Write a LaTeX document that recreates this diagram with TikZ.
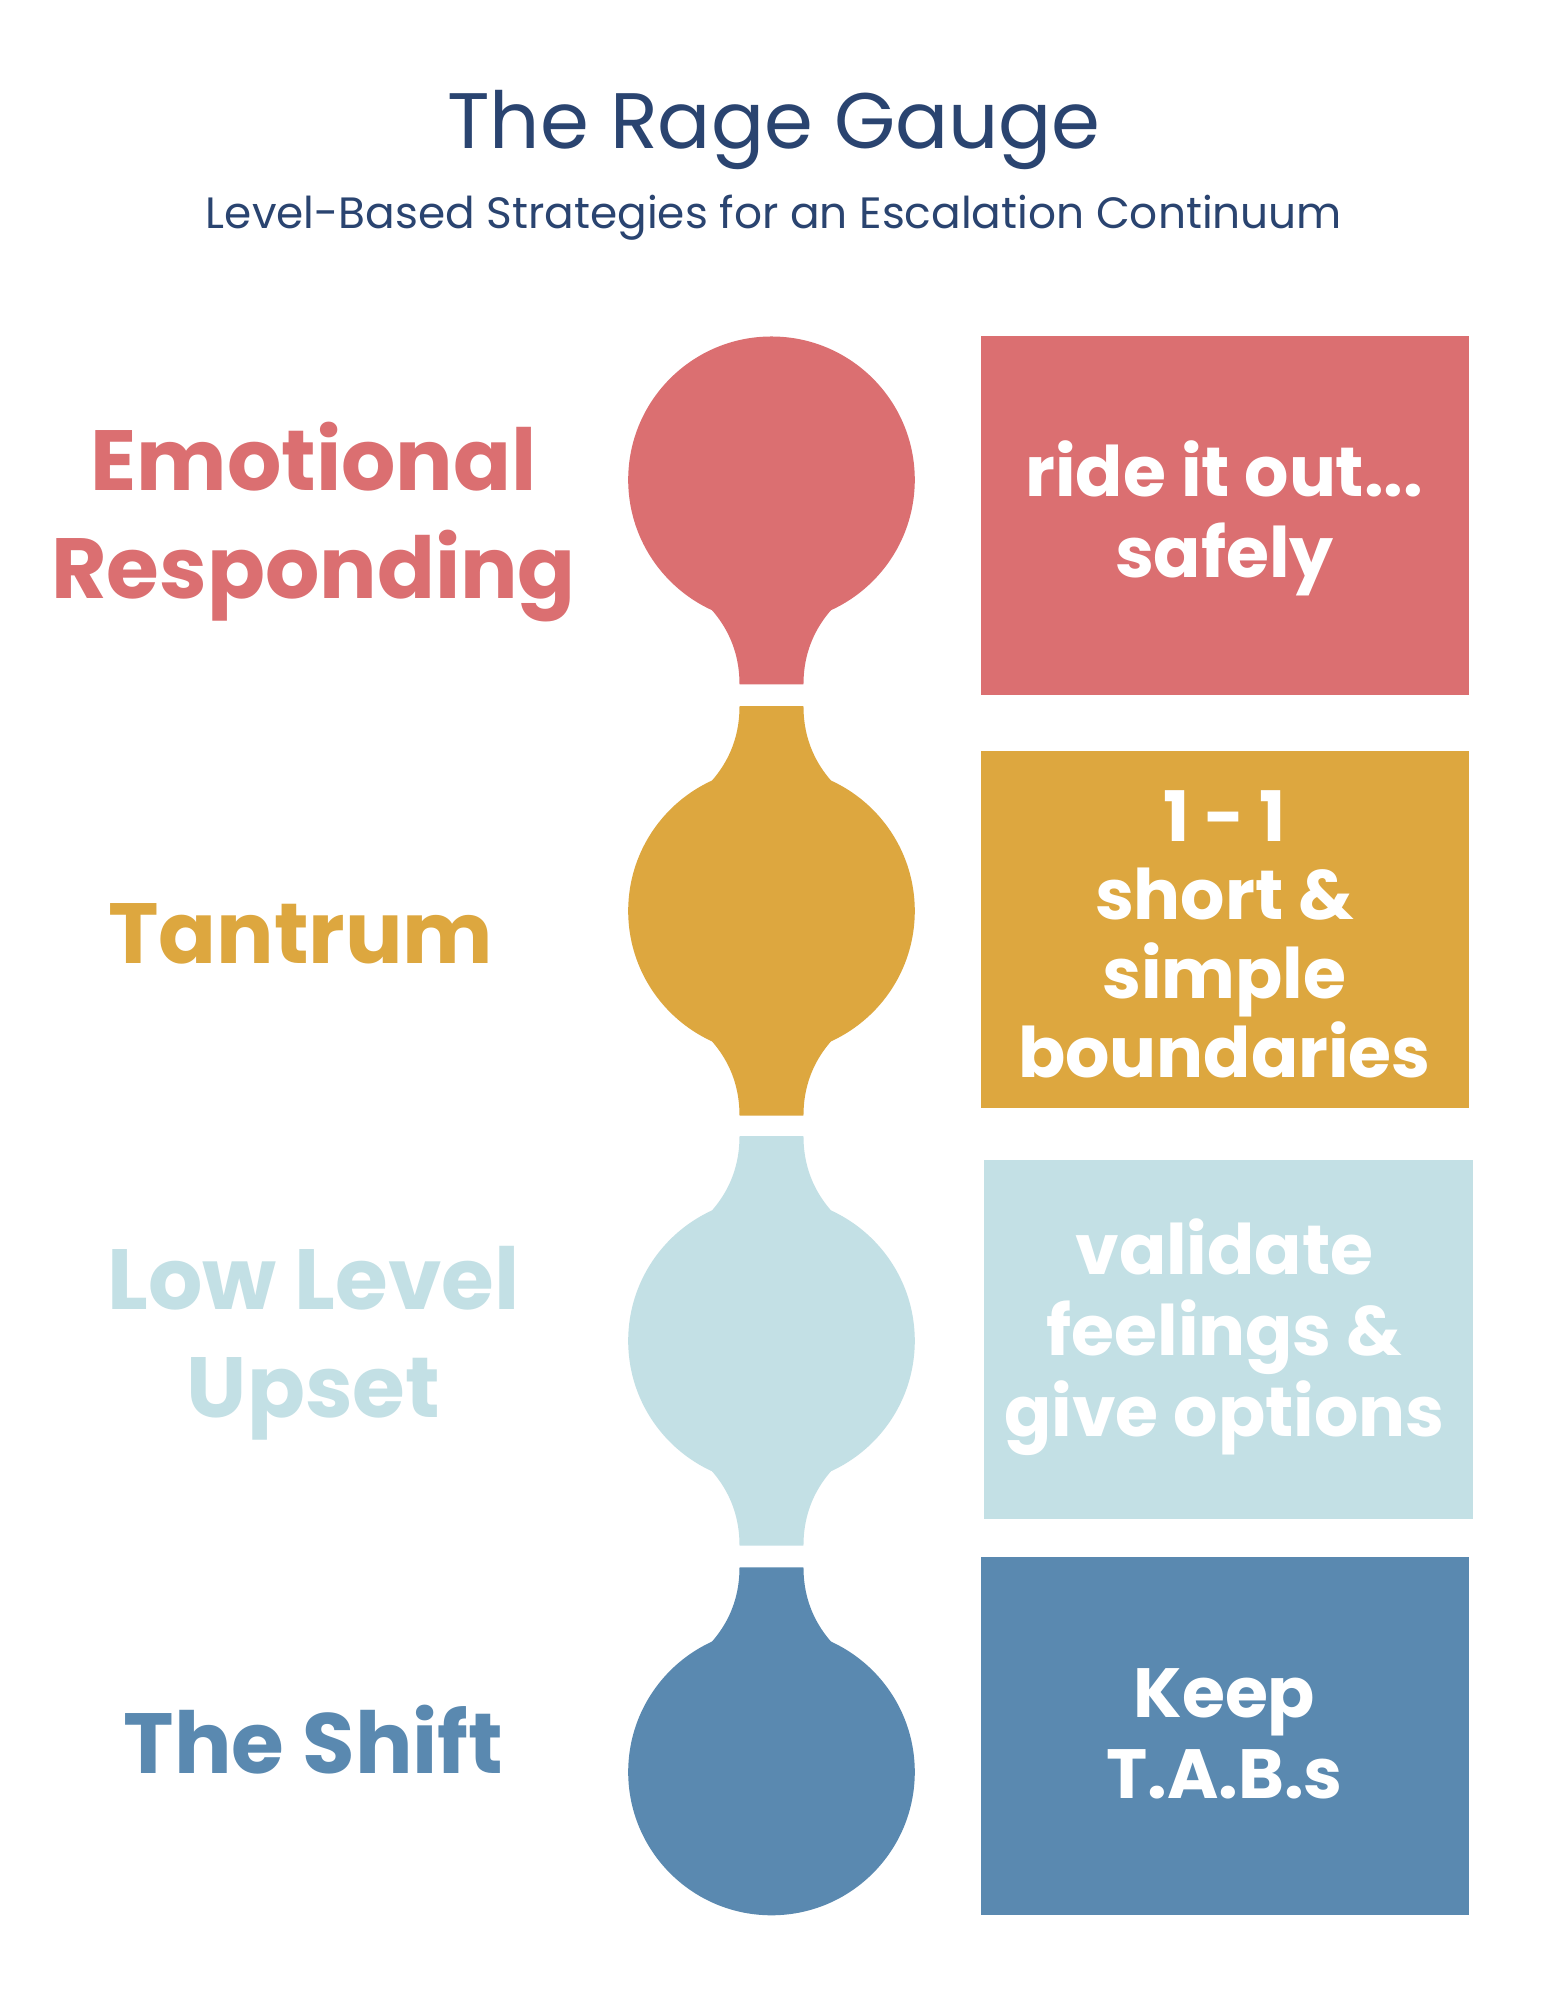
\documentclass[tikz,border=0pt]{standalone}
\usepackage{fontspec}
\setmainfont{Poppins}
\definecolor{cR}{HTML}{DB6F71}
\definecolor{cO}{HTML}{DDA73F}
\definecolor{cL}{HTML}{C3E0E5}
\definecolor{cB}{HTML}{5A89B0}
\definecolor{navy}{HTML}{2A4470}
\begin{document}
\begin{tikzpicture}[x=0.02cm,y=-0.02cm,
  lab/.style={font=\fontsize{38}{48}\selectfont\bfseries,align=center},
  box/.style={font=\fontsize{31}{36}\selectfont\bfseries,text=white,align=center},
  inner sep=0]
\useasboundingbox (0,0) rectangle (1210,1564);
\fill[white] (0,0) rectangle (1210,1564);
\node (title) [text=navy,font=\fontsize{35}{40}\selectfont] at (605,102) {The Rage Gauge};
\node (sub) [text=navy,font=\fontsize{19.5}{24}\selectfont] at (605,170) {Level-Based Strategies for an Escalation Continuum};
% shapes
\newcommand{\neckdown}[2]{% color, circle center y: neck goes down
  \fill[#1] (538,#2+85) .. controls (565,#2+105) and (578,#2+130) .. (578,#2+160) -- (628,#2+160) .. controls (628,#2+130) and (641,#2+105) .. (668,#2+85) -- cycle;}
\newcommand{\neckup}[2]{%
  \fill[#1] (538,#2-85) .. controls (565,#2-105) and (578,#2-130) .. (578,#2-160) -- (628,#2-160) .. controls (628,#2-130) and (641,#2-105) .. (668,#2-85) -- cycle;}
\fill[cR] (603,375) circle (112); \neckdown{cR}{375}
\fill[cO] (603,712) circle (112); \neckdown{cO}{712}\neckup{cO}{712}
\fill[cL] (603,1048) circle (112); \neckdown{cL}{1048}\neckup{cL}{1048}
\fill[cB] (603,1385) circle (112); \neckup{cB}{1385}
% left labels
\node (l1) [lab,text=cR] at (245,408) {Emotional\\Responding};
\node (l2) [lab,text=cO] at (235,730) {Tantrum};
\node (l3) [lab,text=cL] at (245,1050) {Low Level\\Upset};
\node (l4) [lab,text=cB] at (245,1360) {The Shift};
% boxes
\fill[cR] (767,263) rectangle (1148,543);
\fill[cO] (767,587) rectangle (1148,866);
\fill[cL] (769,907) rectangle (1151,1187);
\fill[cB] (767,1217) rectangle (1148,1497);
\node (b1) [box] at (957,405) {ride it out...\\safely};
\node (b2) [box,font=\fontsize{31}{35}\selectfont\bfseries] at (957,730) {1 - 1\\short \&\\simple\\boundaries};
\node (b3) [box] at (957,1045) {validate\\feelings \&\\give options};
\node (b4) [box] at (957,1355) {Keep\\T.A.B.s};
\end{tikzpicture}
\end{document}
